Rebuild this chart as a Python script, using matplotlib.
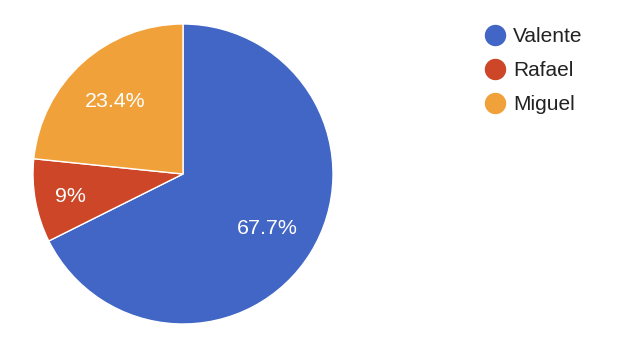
import numpy as np
import matplotlib.pyplot as plt
from matplotlib.lines import Line2D

plt.rcParams['font.family'] = ['Liberation Sans', 'DejaVu Sans']

names = ['Valente', 'Rafael', 'Miguel']
shares = [67.7, 9.0, 23.4]
pct_labels = ['67.7%', '9%', '23.4%']
colors = ['#4266C5', '#CC4627', '#F1A13A']

fig = plt.figure(figsize=(6.28, 3.46), dpi=100)
W, H = 628, 346
cx, cy, r = 183, 174, 150
ax = fig.add_axes([(cx - r) / W, (H - cy - r) / H, 2 * r / W, 2 * r / H])

wedges, _ = ax.pie(shares, colors=colors, startangle=90, counterclock=False,
                   wedgeprops=dict(edgecolor='white', linewidth=1))
ax.set_xlim(-1, 1)
ax.set_ylim(-1, 1)
ax.set_aspect('equal')
ax.axis('off')

# label positions along each wedge's bisector
dists = [0.66, 0.76, 0.67]
for w, lab, d in zip(wedges, pct_labels, dists):
    ang = np.deg2rad((w.theta1 + w.theta2) / 2)
    ax.text(d * np.cos(ang), d * np.sin(ang) - 0.013, lab, color='white',
            fontsize=15.4, ha='center', va='center')

handles = [Line2D([], [], marker='o', linestyle='', markersize=14.4,
                  markerfacecolor=c, markeredgecolor=c) for c in colors]
fig.legend(handles, names, loc='upper left', bbox_to_anchor=(485 / W, 1 - 27 / H),
           frameon=False, fontsize=15, handletextpad=0.35, labelspacing=0.72,
           handlelength=1.0, borderaxespad=0, borderpad=0, labelcolor='#222222')

fig.savefig('out.png', dpi=100)
